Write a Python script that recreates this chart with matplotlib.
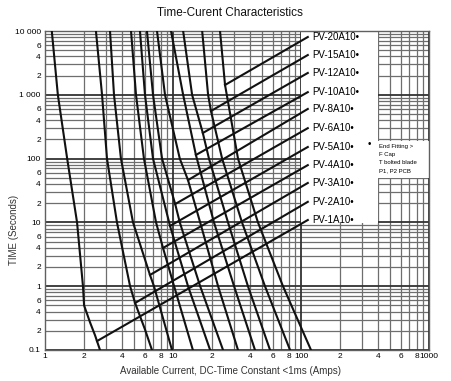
import matplotlib
matplotlib.use("Agg")
import matplotlib.pyplot as plt
from matplotlib.patches import Rectangle
from matplotlib.ticker import FixedLocator, NullFormatter

plt.rcParams['font.family'] = ['Liberation Sans', 'DejaVu Sans']

# fuse ratings, top label first
fuse_labels = ['PV-20A10', 'PV-15A10', 'PV-12A10', 'PV-10A10', 'PV-8A10', 'PV-6A10',
               'PV-5A10', 'PV-4A10', 'PV-3A10', 'PV-2A10', 'PV-1A10']

# melting curves: current (A) and time (s)
amps_20 = [23.3, 25.5, 32.2, 46.1, 72.3, 119.7]
secs_20 = [10000, 1426, 100, 10, 1, 0.1]
amps_15 = [16.9, 18.8, 19.8, 24.2, 34.6, 52.3, 82.1]
secs_15 = [10000, 1000, 557, 100, 10, 1, 0.1]
amps_12 = [12.0, 14.1, 17.1, 19.1, 26.9, 38.5, 57.3]
secs_12 = [10000, 1000, 252, 100, 10, 1, 0.1]
amps_10 = [9.65, 12.0, 15.1, 20.9, 30.0, 43.7]
secs_10 = [10000, 1000, 114, 10, 1, 0.1]
amps_8 = [7.5, 8.66, 11.3, 13.1, 16.3, 22.5, 32.2]
secs_8 = [10000, 1000, 100, 46, 10, 1, 0.1]
amps_6 = [6.26, 6.98, 8.21, 10.4, 11.3, 16.3, 24.6]
secs_6 = [10000, 1000, 100, 19.4, 10, 1, 0.1]
amps_5 = [5.52, 6.04, 6.98, 9.48, 13.1, 19.5]
secs_5 = [10000, 1000, 100, 8.8, 1, 0.1]
amps_4 = [4.7, 5.14, 5.93, 7.37, 8.35, 10.2, 14.3]
secs_4 = [10000, 1000, 100, 10, 4.0, 1, 0.1]
amps_3 = [3.22, 3.46, 3.92, 4.87, 6.61, 7.1, 9.82]
secs_3 = [10000, 1000, 100, 10, 1.5, 1, 0.1]
amps_2 = [2.5, 2.79, 3.05, 3.65, 4.62, 5.05, 6.04, 6.85]
secs_2 = [10000, 1000, 100, 10, 1, 0.55, 0.21, 0.1]
amps_1 = [1.13, 1.26, 1.49, 1.78, 1.98, 2.02, 2.25, 2.46, 2.69]
secs_1 = [10000, 1000, 100, 10, 1, 0.5, 0.27, 0.17, 0.1]

curves = [(amps_20, secs_20), (amps_15, secs_15), (amps_12, secs_12), (amps_10, secs_10),
          (amps_8, secs_8), (amps_6, secs_6), (amps_5, secs_5), (amps_4, secs_4),
          (amps_3, secs_3), (amps_2, secs_2), (amps_1, secs_1)]

# leader lines: point on the curve -> label height
leader_amps = [25.5, 19.8, 17.1, 15.1, 13.1, 10.4, 9.48, 8.35, 6.61, 5.05, 2.55]
leader_secs = [1426, 557, 252, 114, 46, 19.4, 8.8, 3.97, 1.5, 0.545, 0.138]
label_secs = [8050, 4200, 2200, 1100, 600, 300, 152, 79, 41.5, 21, 10.9]

note_lines = ['End Fitting >', 'F Cap', 'T bolted blade', 'P1, P2 PCB']

x_ticks = [1, 2, 4, 6, 8, 10, 20, 40, 60, 80, 100, 200, 400, 600, 800, 1000]
x_ticklabels = ['1', '2', '4', '6', '8', '10', '2', '4', '6', '8', '100', '2', '4', '6', '8', '1000']
y_ticks = [0.1, 0.2, 0.4, 0.6, 1, 2, 4, 6, 10, 20, 40, 60, 100, 200, 400, 600,
           1000, 2000, 4000, 6000, 10000]
y_ticklabels = ['0.1', '2', '4', '6', '1', '2', '4', '6', '10', '2', '4', '6', '100',
                '2', '4', '6', '1 000', '2', '4', '6', '10 000']

fig = plt.figure(figsize=(4.51, 3.81), dpi=100)
ax = fig.add_axes([45 / 451, 31 / 381, 384 / 451, 319 / 381])
ax.set_xscale('log')
ax.set_yscale('log')
ax.set_xlim(1, 1000)
ax.set_ylim(0.1, 10000)

# grid: decades dark, 2..9 lighter
decades_x = [1, 10, 100, 1000]
decades_y = [0.1, 1, 10, 100, 1000, 10000]
for d in decades_x[:-1]:
    for k in range(2, 10):
        ax.axvline(d * k, color='#6e6e6e', lw=0.9, zorder=0.5)
for d in decades_y[:-1]:
    for k in range(2, 10):
        ax.axhline(d * k, color='#6e6e6e', lw=0.9, zorder=0.5)
for d in decades_x:
    ax.axvline(d, color='#333333', lw=1.3, zorder=0.6)
for d in decades_y:
    ax.axhline(d, color='#333333', lw=1.3, zorder=0.6)

# white areas for labels and note
ax.add_patch(Rectangle((100, 9.8), 300, 10000, facecolor='white', edgecolor='none', zorder=1))
ax.add_patch(Rectangle((400, 50), 600, 140, facecolor='white', edgecolor='none', zorder=1))

for (a, s) in curves:
    ax.plot(a, s, color='#111111', lw=1.5, zorder=3)

for name, la, ls, ts in zip(fuse_labels, leader_amps, leader_secs, label_secs):
    ax.plot([la, 113], [ls, ts], color='#111111', lw=1.5, zorder=3)
    ax.text(123, ts, name + '\u2022', fontsize=7, va='center', ha='left', zorder=4)

ax.text(340, 168, '\u2022', fontsize=7, va='center', ha='center', zorder=4)
note_y = [157, 118, 86, 64]
for line, yy in zip(note_lines, note_y):
    ax.text(405, yy, line, fontsize=4.3, va='center', ha='left', zorder=4)

ax.xaxis.set_major_locator(FixedLocator(x_ticks))
ax.xaxis.set_minor_formatter(NullFormatter())
ax.set_xticklabels(x_ticklabels)
ax.yaxis.set_major_locator(FixedLocator(y_ticks))
ax.yaxis.set_minor_formatter(NullFormatter())
ax.set_yticklabels(y_ticklabels)
ax.tick_params(which='both', length=0, labelsize=6)
ax.tick_params(axis='y', pad=3)
ax.tick_params(axis='x', pad=2)

for sp in ax.spines.values():
    sp.set_color('#606060')
    sp.set_linewidth(1)

fig.text(230 / 451, 1 - 13 / 381, 'Time-Curent Characteristics', fontsize=8.5,
         ha='center', va='center', color='#111111')
fig.text(230 / 451, 1 - 371 / 381, 'Available Current, DC-Time Constant <1ms (Amps)',
         fontsize=7, ha='center', va='center', color='#333333')
fig.text(14 / 451, 1 - 230 / 381, 'TIME (Seconds)', fontsize=7, rotation=90,
         ha='center', va='center', color='#333333')

fig.savefig('out.png', dpi=100)
